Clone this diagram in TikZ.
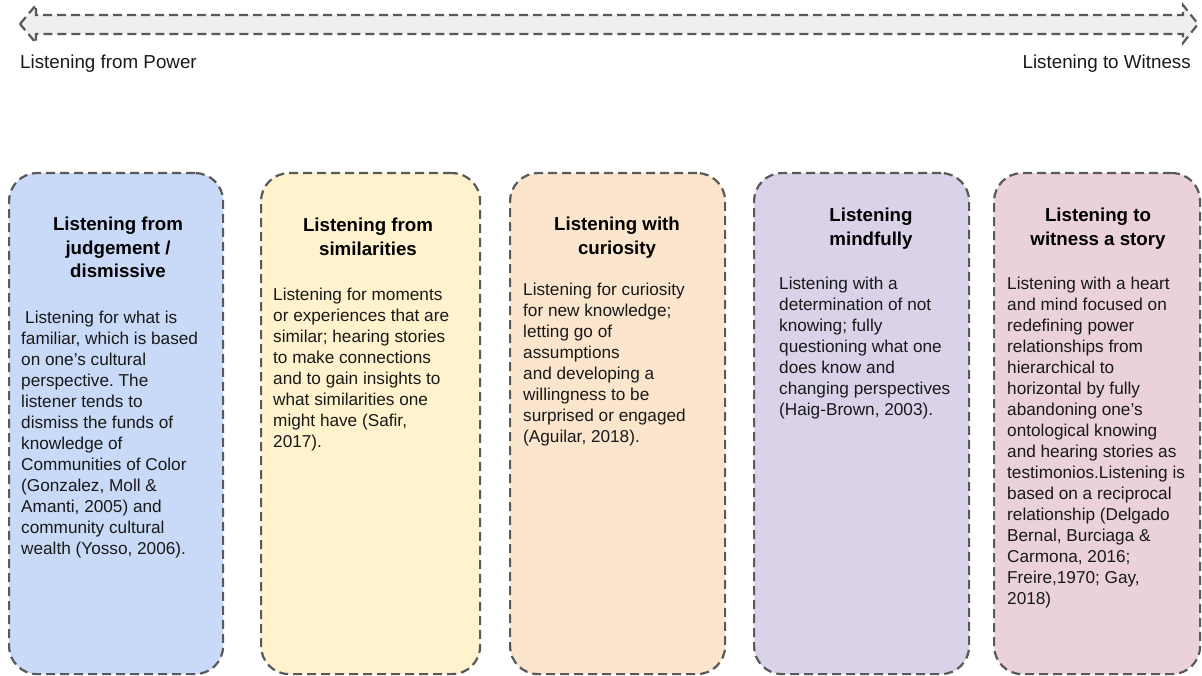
\documentclass[tikz,border=0pt]{standalone}
\usepackage{fontspec}
\setmainfont{Liberation Sans}
\frenchspacing
\definecolor{dashgray}{HTML}{595959}
\definecolor{arrowfill}{HTML}{EFEFEF}
\definecolor{cblue}{HTML}{C9DAF8}
\definecolor{cyellow}{HTML}{FFF2CC}
\definecolor{corange}{HTML}{FCE5CD}
\definecolor{cpurple}{HTML}{D9D2E9}
\definecolor{cpink}{HTML}{EAD1DC}
\begin{document}
\begin{tikzpicture}[x=1pt,y=-1pt,
  card/.style={draw=dashgray, line width=2.2pt, dash pattern=on 9pt off 5pt,
    rounded corners=28pt, inner sep=0pt, anchor=north west},
  cardtitle/.style={font=\fontsize{18.7}{23.5}\selectfont\bfseries, align=center,
    anchor=north, inner sep=0pt, text=black},
  cardbody/.style={font=\fontsize{17.2}{21}\selectfont, align=left,
    anchor=north west, inner sep=0pt, text=black!90},
  endlabel/.style={font=\fontsize{18.8}{22}\selectfont, inner sep=0pt, text=black!90}
  ]
\useasboundingbox (0,0) rectangle (1202,676);

% scale arrow across the top
\draw[draw=dashgray, fill=arrowfill, line width=2.2pt, dash pattern=on 9pt off 5pt, line join=miter]
  (20,24) -- (36,5) -- (36,15) -- (1183,15) -- (1183,5) -- (1198,24)
  -- (1183,43) -- (1183,34) -- (36,34) -- (36,43) -- cycle;
\node[endlabel, anchor=base west] (lpower) at (20,69) {Listening from Power};
\node[endlabel, anchor=base east] (lwitness) at (1191,69) {Listening to Witness};

% cards
\node[card, fill=cblue,   minimum width=214pt, minimum height=501pt] (b1) at (8,172) {};
\node[card, fill=cyellow, minimum width=219pt, minimum height=501pt] (b2) at (260,172) {};
\node[card, fill=corange, minimum width=215pt, minimum height=501pt] (b3) at (509,172) {};
\node[card, fill=cpurple, minimum width=215pt, minimum height=501pt] (b4) at (753,172) {};
\node[card, fill=cpink,   minimum width=206pt, minimum height=501pt] (b5) at (993,172) {};

% titles
\node[cardtitle] (t1) at (118,217) {Listening from\\judgement /\\dismissive};
\node[cardtitle] (t2) at (368,218) {Listening from\\similarities};
\node[cardtitle] (t3) at (617,217) {Listening with\\curiosity};
\node[cardtitle] (t4) at (871,208) {Listening\\mindfully};
\node[cardtitle] (t5) at (1098,208) {Listening to\\witness a story};

% descriptions
\node[cardbody] (d1) at (21,311) {\hspace*{4pt}Listening for what is\\
familiar, which is based\\
on one’s cultural\\
perspective. The\\
listener tends to\\
dismiss the funds of\\
knowledge of\\
Communities of Color\\
(Gonzalez, Moll \&\\
Amanti, 2005) and\\
community cultural\\
wealth (Yosso, 2006).};

\node[cardbody] (d2) at (273,288) {Listening for moments\\
or experiences that are\\
similar; hearing stories\\
to make connections\\
and to gain insights to\\
what similarities one\\
might have (Safir,\\
2017).};

\node[cardbody] (d3) at (523,283) {Listening for curiosity\\
for new knowledge;\\
letting go of\\
assumptions\\
and developing a\\
willingness to be\\
surprised or engaged\\
(Aguilar, 2018).};

\node[cardbody] (d4) at (779,277) {Listening with a\\
determination of not\\
knowing; fully\\
questioning what one\\
does know and\\
changing perspectives\\
(Haig-Brown, 2003).};

\node[cardbody] (d5) at (1007,277) {Listening with a heart\\
and mind focused on\\
redefining power\\
relationships from\\
hierarchical to\\
horizontal by fully\\
abandoning one’s\\
ontological knowing\\
and hearing stories as\\
testimonios.Listening is\\
based on a reciprocal\\
relationship (Delgado\\
Bernal, Burciaga \&\\
Carmona, 2016;\\
Freire,1970; Gay,\\
2018)};
\end{tikzpicture}
\end{document}
